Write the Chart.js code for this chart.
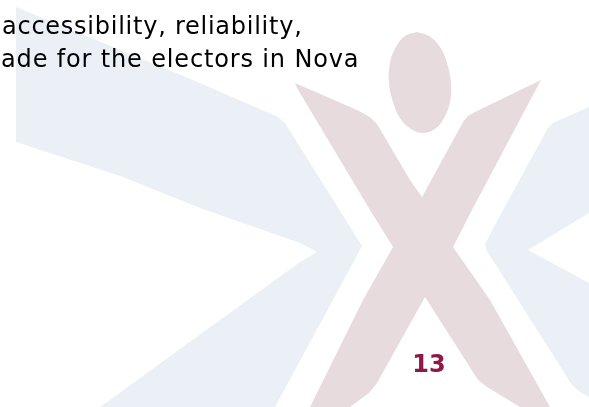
<!DOCTYPE html>
<html>
<head>
<meta charset="utf-8">
<title>Page 13</title>
<script src="https://cdn.jsdelivr.net/npm/chart.js@4.4.0/dist/chart.umd.min.js"></script>
<style>
    html, body { margin: 0; padding: 0; background: #ffffff; }
    #page { display: block; }
</style>
</head>
<body>
<canvas id="page" width="589" height="407"></canvas>
<script>
"use strict";

// text on the page
var textLines = ["accessibility, reliability,", "ade for the electors in Nova"];
var pageNumber = "13";

// watermark outlines (x, y in page pixels)
var blueLeftX = [16, 193, 278, 284, 290, 362, 333, 275, 100, 300, 317, 300, 200, 123, 16, 16];
var blueLeftY = [7, 80, 117, 122, 131, 246, 300, 407, 407, 262, 252, 243, 208, 177, 142, 7];

var blueRightX = [553, 589, 589, 528, 589, 589, 580, 572, 487, 485, 503, 548, 553];
var blueRightY = [123, 107, 213, 250, 283, 397, 392, 385, 251, 244, 210, 128, 123];

var xShapeX = [295, 357, 370, 377, 410, 422, 463, 468, 475, 541, 472, 453, 490, 550, 520, 487, 478, 425, 377, 369, 350, 310, 363, 393, 370, 297, 295];
var xShapeY = [83, 110, 117, 124, 180, 197, 122, 116, 112, 80, 210, 247, 300, 407, 407, 387, 380, 297, 383, 393, 407, 407, 300, 247, 210, 88, 83];

var headX = [417, 429, 440, 447, 451, 450, 444, 435, 423, 411, 400, 393, 389, 390, 396, 405, 417];
var headY = [32, 36, 47, 63, 83, 102, 118, 129, 133, 129, 118, 102, 83, 63, 47, 36, 32];

function points(xs, ys) {
    return xs.map(function (x, i) { return { x: x, y: ys[i] }; });
}

function shape(xs, ys, colour, tension) {
    return {
        data: points(xs, ys),
        showLine: true,
        fill: 'shape',
        backgroundColor: colour,
        borderColor: colour,
        borderWidth: 0,
        pointRadius: 0,
        tension: tension
    };
}

// page text drawn on top of the watermark
var pageText = {
    id: 'pageText',
    afterDraw: function (chart) {
        var ctx = chart.ctx;
        ctx.save();
        ctx.textBaseline = 'alphabetic';
        ctx.textAlign = 'left';
        ctx.fillStyle = '#000000';
        ctx.font = '24px "DejaVu Sans"';
        ctx.letterSpacing = '0.75px';
        ctx.fillText(textLines[0], 2, 34);
        ctx.letterSpacing = '0.85px';
        ctx.fillText(textLines[1], 1, 67);
        ctx.letterSpacing = '0px';
        ctx.fillStyle = '#8c1a48';
        ctx.font = 'bold 24px "DejaVu Sans"';
        ctx.textAlign = 'center';
        ctx.fillText(pageNumber, 429, 372);
        ctx.restore();
    }
};

new Chart(document.getElementById("page"), {
    type: 'scatter',
    data: {
        datasets: [
            shape(blueLeftX, blueLeftY, '#ebf0f7', 0),
            shape(blueRightX, blueRightY, '#ebf0f7', 0),
            shape(xShapeX, xShapeY, '#e8dbdd', 0),
            shape(headX, headY, '#e8dbdd', 0.4)
        ]
    },
    options: {
        responsive: false,
        animation: false,
        events: [],
        layout: { padding: 0 },
        plugins: {
            legend: { display: false },
            tooltip: { enabled: false }
        },
        scales: {
            x: { type: 'linear', min: 0, max: 589, display: false },
            y: { type: 'linear', min: 0, max: 407, reverse: true, display: false }
        }
    },
    plugins: [pageText]
});
</script>
</body>
</html>
